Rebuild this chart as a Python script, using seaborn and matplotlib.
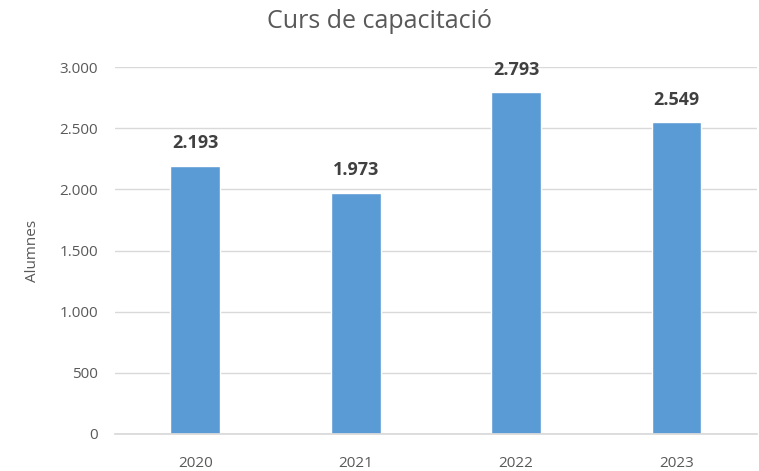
import matplotlib
matplotlib.use("Agg")
import matplotlib.pyplot as plt
import seaborn as sns
import pandas as pd

years = ["2020", "2021", "2022", "2023"]
alumnes = [2193, 1973, 2793, 2549]
yticks = [0, 500, 1000, 1500, 2000, 2500, 3000]
ytick_labels = ["0", "500", "1.000", "1.500", "2.000", "2.500", "3.000"]
value_labels = ["2.193", "1.973", "2.793", "2.549"]

sns.set_theme(style="white")
plt.rcParams['font.family'] = ['Liberation Sans Narrow', 'Open Sans', 'DejaVu Sans']

df = pd.DataFrame({"Any": years, "Alumnes": alumnes})
fig = plt.figure(figsize=(7.59, 4.71), dpi=100)
ax = fig.add_axes([0.1515, 0.0786, 0.8455, 0.7791])
sns.barplot(data=df, x="Any", y="Alumnes", color="#5B9BD5", width=0.31, ax=ax, saturation=1)

ax.set_ylim(0, 3000)
ax.set_xlim(-0.5, 3.5)
ax.set_yticks(yticks)
ax.set_yticklabels(ytick_labels)
ax.yaxis.grid(True, color="#D9D9D9", linewidth=1)
ax.set_axisbelow(True)
for s in ["top", "right", "left"]:
    ax.spines[s].set_visible(False)
ax.spines["bottom"].set_color("#D9D9D9")
ax.tick_params(axis="both", colors="#595959", labelsize=11, length=0)
ax.tick_params(axis="y", pad=12)
ax.tick_params(axis="x", pad=16)
ax.set_xlabel("")
ax.set_ylabel("Alumnes", color="#595959", fontsize=11, labelpad=14)

for i, (v, lab) in enumerate(zip(alumnes, value_labels)):
    ax.text(i, v + 110, lab, ha="center", va="bottom", fontsize=13, fontweight="bold", color="#404040")

fig.suptitle("Curs de capacitació", fontsize=18, color="#595959", y=0.98)
fig.savefig("out.png", dpi=100)
